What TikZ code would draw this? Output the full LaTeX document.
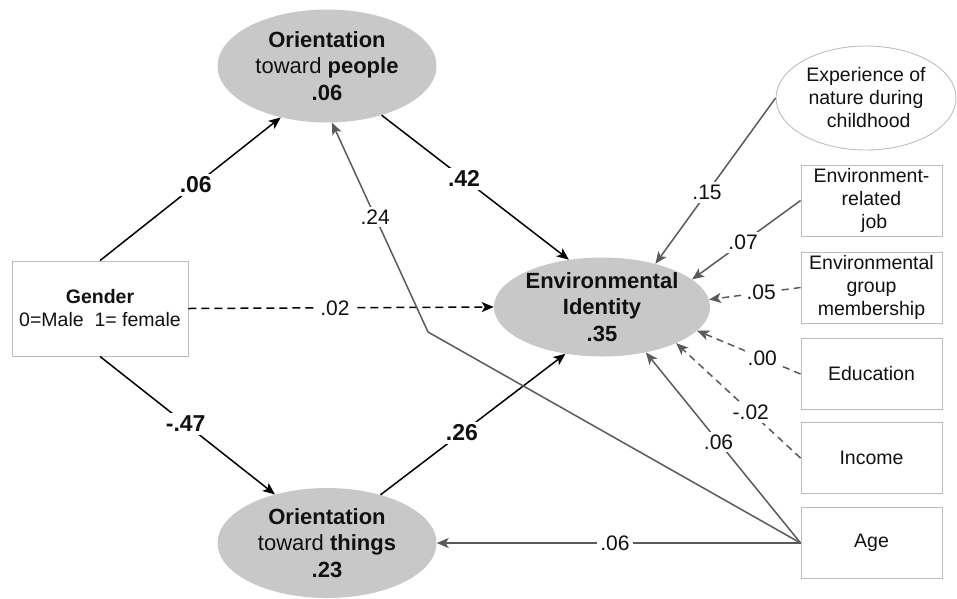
\documentclass[tikz,border=0pt]{standalone}
\usepackage{fontspec}
\setmainfont{Liberation Sans}
\usetikzlibrary{shapes.geometric,arrows.meta}
\definecolor{ellfill}{HTML}{C8C8C8}
\definecolor{boxline}{HTML}{BDBDBD}
\definecolor{edgegray}{HTML}{5A5A5A}
\definecolor{txt}{HTML}{111111}
\begin{document}
\begin{tikzpicture}[x=1pt,y=-1pt,
  latent/.style={ellipse,fill=ellfill,inner sep=0pt,align=center,text=txt,
    font=\fontsize{22}{26.5}\selectfont},
  obsbox/.style={rectangle,draw=boxline,line width=0.9pt,inner sep=0pt,align=center,text=txt,
    minimum width=141pt,minimum height=71pt,font=\fontsize{19.5}{23}\selectfont},
  blackarrow/.style={line width=1.5pt,draw=black,-{Stealth[length=12pt,width=10pt,inset=3pt]}},
  grayarrow/.style={line width=1.5pt,draw=edgegray,-{Stealth[length=12pt,width=10pt,inset=3pt]}},
  graydash/.style={grayarrow,dash pattern=on 7pt off 5pt},
  blab/.style={fill=white,inner sep=3pt,font=\fontsize{23}{26}\selectfont\bfseries,text=txt},
  rlab/.style={fill=white,inner sep=3pt,font=\fontsize{21}{24}\selectfont,text=txt},
]
\useasboundingbox (0,0) rectangle (957,598);

% latent variables
\node[latent,minimum width=219pt,minimum height=113pt] (people) at (327,66)
  {\textbf{Orientation}\\toward \textbf{people}\\\textbf{.06}};
\node[latent,minimum width=219pt,minimum height=110pt] (things) at (327,543)
  {\textbf{Orientation}\\toward \textbf{things}\\\textbf{.23}};
\node[latent,minimum width=210pt,minimum height=99pt] (env) at (602,307)
  {\textbf{Environmental}\\\textbf{Identity}\\\textbf{.35}};

% gender box
\node[rectangle,draw=boxline,line width=0.9pt,inner sep=0pt,align=center,text=txt,
  minimum width=176pt,minimum height=95pt,font=\fontsize{19.5}{23}\selectfont]
  (gender) at (100,308.5) {\textbf{Gender}\\0=Male\ \ 1= female};

% predictors on the right
\node[ellipse,draw=boxline,line width=0.9pt,inner sep=0pt,align=center,text=txt,
  minimum width=180pt,minimum height=104pt,font=\fontsize{19.5}{23}\selectfont]
  (exp) at (866,98) {Experience of\\nature during\\\ childhood};
\node[obsbox] (job) at (871.5,200.5) {Environment-\\related\\\ job};
\node[obsbox] (memb) at (871.5,287.5) {Environmental\\group\\membership};
\node[obsbox] (edu) at (871.5,374) {Education};
\node[obsbox] (inc) at (871.5,458) {Income};
\node[obsbox] (age) at (871.5,543) {Age};

\coordinate (kink) at (428,332);

% black paths
\draw[blackarrow] (gender.north) -- node[blab,pos=0.53] {.06} (people.228);
\draw[blackarrow] (gender.south) -- node[blab,pos=0.49] {-.47} (things.137);
\draw[blackarrow] (people.318) -- node[blab,pos=0.44] {.42} (env.125);
\draw[blackarrow] (things.42) -- node[blab,pos=0.44] {.26} (env.232);
\draw[blackarrow,dash pattern=on 8pt off 5pt] (gender.east) -- node[rlab,pos=0.48] {.02} (env.west);

% gray paths
\draw[grayarrow] (age.west) -- (kink) -- node[rlab,pos=0.55] {.24} (people.275);
\draw[grayarrow] (age.west) -- node[rlab,pos=0.53] {.06} (env.314);
\draw[grayarrow] (age.west) -- node[rlab,pos=0.51] {.06} (things.east);
\draw[grayarrow] (exp.west) -- node[rlab,pos=0.57] {.15} (env.39);
\draw[grayarrow] (job.west) -- node[rlab,pos=0.53] {.07} (env.17);
\draw[graydash] (memb.west) -- node[rlab,pos=0.43] {.05} (env.4.5);
\draw[graydash] (edu.west) -- node[rlab,pos=0.37] {.00} (env.346);
\draw[graydash] (inc.west) -- node[rlab,pos=0.40] {-.02} (env.334);
\end{tikzpicture}
\end{document}
